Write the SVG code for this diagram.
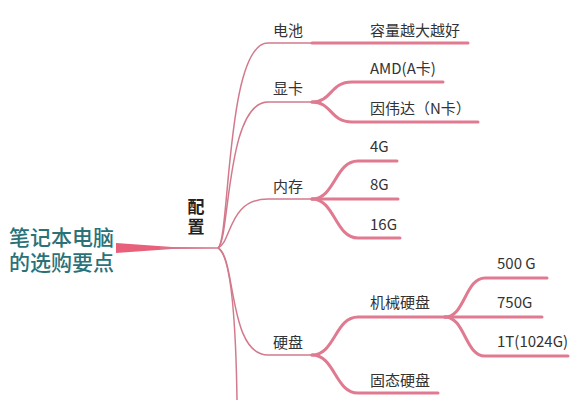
<svg xmlns="http://www.w3.org/2000/svg" width="577" height="400" viewBox="0 0 577 400">
<style>
.t{font-family:"Noto Sans CJK SC","Liberation Sans",sans-serif;font-size:15px;fill:#333}
.root{font-family:"Noto Sans CJK SC","Liberation Sans",sans-serif;font-size:21px;font-weight:500;fill:#2a7277}
.mid{font-family:"Noto Sans CJK SC","Liberation Sans",sans-serif;font-size:17px;font-weight:bold;fill:#222;writing-mode:vertical-rl;letter-spacing:3px}
.l1{fill:none;stroke:#d27a8c;stroke-width:1.5}
.l2{fill:none;stroke:#e07a90;stroke-width:3;stroke-linecap:round}
</style>
<rect width="577" height="400" fill="#fff"/>
<g id="connectors">
<path d="M116,243 L172,247 L218,248 L172,249 L116,253 Z" fill="#e8607a"/>
<line x1="160" y1="248" x2="219" y2="248" stroke="#d27a8c" stroke-width="1.5"/>
<path class="l1" d="M218,248 C230,240 226,43 268,43 L312,43"/>
<path class="l1" d="M218,248 C230,240 226,102 268,102 L312,102"/>
<path class="l1" d="M218,248 C232,242 228,199 268,199 L312,199"/>
<path class="l1" d="M218,248 C236,256 228,355 268,355 L312,355"/>
<path class="l1" d="M218,248 C232,256 236,330 237,400"/>
<path class="l2" d="M312,43 L468,43"/>
<path class="l2" d="M312,102 C332,102 330,82 352,82 L443,82"/>
<path class="l2" d="M312,102 C332,102 330,122 352,122 L478,122"/>
<path class="l2" d="M312,199 C335,199 335,161 358,161 L397,161"/>
<path class="l2" d="M312,199 L398,199"/>
<path class="l2" d="M312,199 C335,199 335,238 358,238 L400,238"/>
<path class="l2" d="M312,355 C335,355 335,317 358,317 L445,317"/>
<path class="l2" d="M312,355 C335,355 335,393 358,393 L438,393"/>
<path class="l2" d="M445,317 C465,317 465,278 485,278 L547,278"/>
<path class="l2" d="M445,317 L542,317"/>
<path class="l2" d="M445,317 C465,317 465,356 485,356 L568,356"/>
</g>
<g id="root"><text class="root"><tspan x="9" y="245">笔记本电脑</tspan><tspan x="9" y="270">的选购要点</tspan></text></g>
<g id="peizhi"><text class="mid" x="196" y="198">配置</text></g>
<g id="dianchi"><text class="t" x="273" y="36">电池</text></g>
<g id="rongliang"><text class="t" x="370" y="36">容量越大越好</text></g>
<g id="xianka"><text class="t" x="273" y="94">显卡</text></g>
<g id="amd"><text class="t" x="370" y="74">AMD(A卡)</text></g>
<g id="nvidia"><text class="t" x="370" y="114">因伟达（N卡）</text></g>
<g id="neicun"><text class="t" x="273" y="192">内存</text></g>
<g id="g4"><text class="t" x="370" y="152">4G</text></g>
<g id="g8"><text class="t" x="370" y="190">8G</text></g>
<g id="g16"><text class="t" x="370" y="230">16G</text></g>
<g id="yingpan"><text class="t" x="273" y="348">硬盘</text></g>
<g id="jixie"><text class="t" x="370" y="308">机械硬盘</text></g>
<g id="gutai"><text class="t" x="370" y="386">固态硬盘</text></g>
<g id="g500"><text class="t" x="497" y="269">500 G</text></g>
<g id="g750"><text class="t" x="497" y="308">750G</text></g>
<g id="t1"><text class="t" x="497" y="347">1T(1024G)</text></g>
</svg>
